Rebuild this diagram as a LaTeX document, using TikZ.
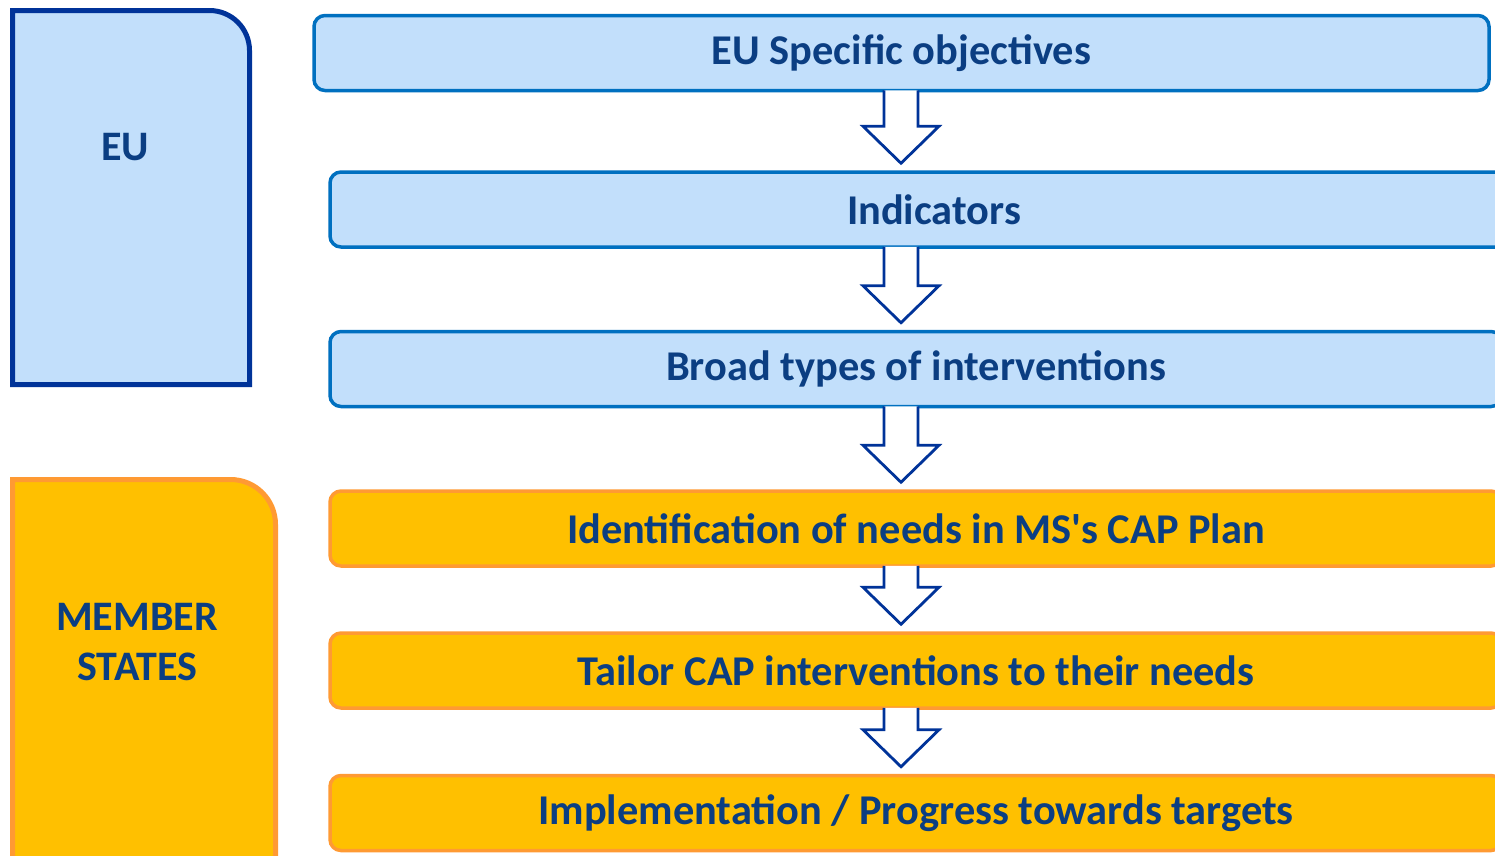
\documentclass[tikz,border=0pt]{standalone}
\usepackage{fontspec}
\setmainfont{Carlito}
\usetikzlibrary{calc}
\definecolor{lblue}{HTML}{C2DFFB}
\definecolor{dblue}{HTML}{003399}
\definecolor{mblue}{HTML}{0070C0}
\definecolor{gold}{HTML}{FFC000}
\definecolor{orng}{HTML}{FF9A33}
\definecolor{txt}{HTML}{0B3E82}
\tikzset{
  bluebox/.style={draw=mblue, fill=lblue, line width=3.5pt, rounded corners=11pt,
    minimum height=75pt, inner sep=0pt, font=\fontsize{42.4}{50}\selectfont\bfseries, text=txt},
  goldbox/.style={bluebox, draw=orng, fill=gold},
  bigarrow/.style={draw=dblue, fill=white, line width=2.8pt, line join=miter},
  sidetext/.style={font=\fontsize{42}{50}\selectfont\bfseries, text=txt, align=center, inner sep=0pt}
}
\newcommand{\blockarrow}[2]{%
  \path let \p1=(#1.south), \p2=(#2.north) in
    coordinate (top) at (901pt,\y1+2pt)
    coordinate (tip) at (901pt,\y2+7pt);
  \draw[bigarrow] ($(top)+(-17pt,0)$) -- ($(tip)+(-17pt,37pt)$) -- ($(tip)+(-38pt,37pt)$)
    -- (tip) -- ($(tip)+(38pt,37pt)$) -- ($(tip)+(17pt,37pt)$) -- ($(top)+(17pt,0)$);
}
\begin{document}
\begin{tikzpicture}[x=1pt,y=-1pt]
\useasboundingbox (0,0) rectangle (1495,855);
\clip (0,0) rectangle (1495,855);
\fill[white] (0,0) rectangle (1495,855);

% left panels
\draw[draw=dblue, fill=lblue, line width=5pt]
  (12.5,384.5) -- (12.5,10.5) -- (209.5,10.5)
  .. controls (231.6,10.5) and (249.5,28.4) .. (249.5,50.5) -- (249.5,384.5) -- cycle;
\node[sidetext] (eu) at (125,147) {EU};
\draw[draw=orng, fill=gold, line width=5pt]
  (12.5,880) -- (12.5,479.5) -- (230.5,479.5)
  .. controls (255.4,479.5) and (275.5,499.6) .. (275.5,524.5) -- (275.5,880) -- cycle;
\node[sidetext] (ms) at (137,642) {MEMBER\\STATES};

% right boxes
\node[bluebox, minimum width=1175pt] (b1) at (901.5,53) {EU Specific objectives};
\node[bluebox, minimum width=1208pt] (b2) at (934,209.5) {Indicators};
\node[bluebox, minimum width=1172pt] (b3) at (916,369) {Broad types of interventions};
\node[goldbox, minimum width=1172pt] (b4) at (916,528.5) {Identification of needs in MS\textquotesingle s CAP Plan};
\node[goldbox, minimum width=1172pt] (b5) at (916,670.5) {Tailor CAP interventions to their needs};
\node[goldbox, minimum width=1172pt] (b6) at (916,813) {Implementation / Progress towards targets};

% arrows
\blockarrow{b1}{b2}
\blockarrow{b2}{b3}
\blockarrow{b3}{b4}
\blockarrow{b4}{b5}
\blockarrow{b5}{b6}
\end{tikzpicture}
\end{document}
